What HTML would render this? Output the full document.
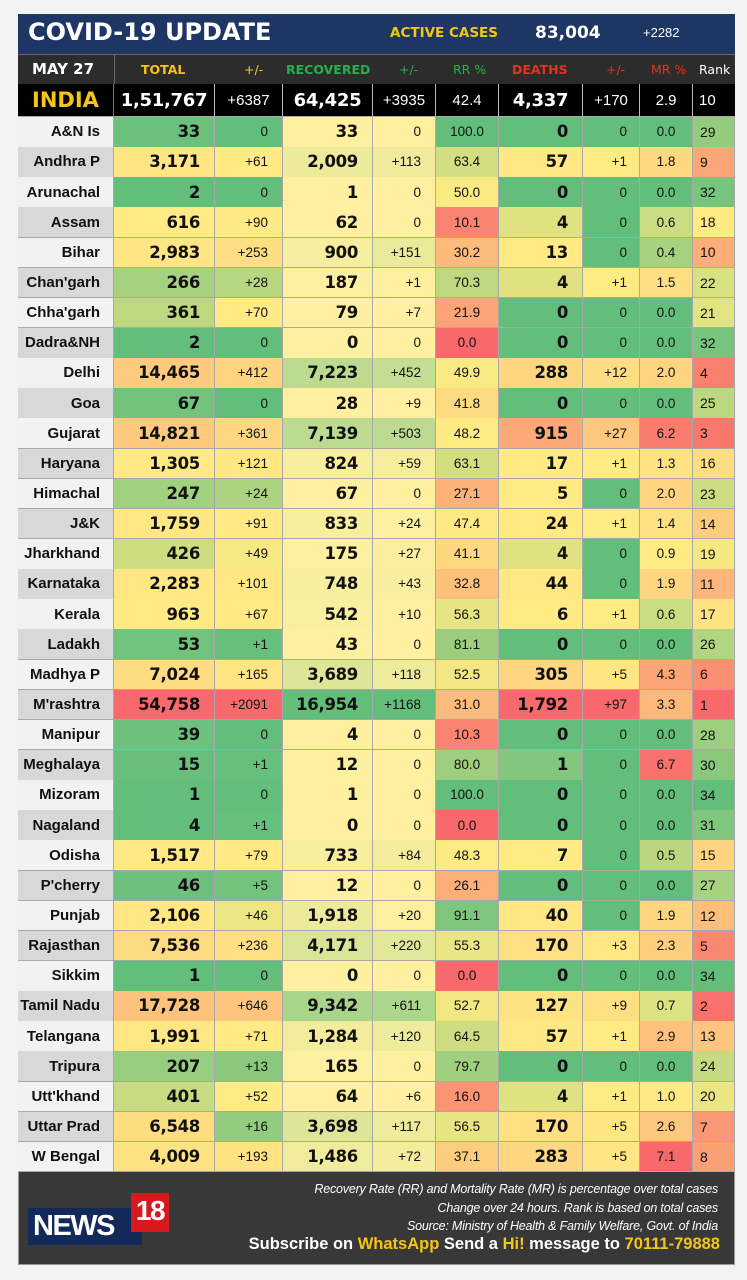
<!DOCTYPE html>
<html><head><meta charset="utf-8">
<style>
*{margin:0;padding:0;box-sizing:border-box}
body{width:747px;height:1280px;background:#f3f3f3;position:relative;overflow:hidden;font-family:"DejaVu Sans","Liberation Sans",sans-serif}
.a{position:absolute;white-space:nowrap}
.c{position:absolute;white-space:nowrap;border-right:1px solid #a9a9a9;border-bottom:1px solid #a9a9a9;display:flex;align-items:center;color:#111;font-size:13.5px;font-family:"Liberation Sans",sans-serif}
.b{font-family:"DejaVu Sans",sans-serif;font-weight:bold;font-size:16.5px;letter-spacing:-0.3px}
.n{font-family:"Liberation Sans",sans-serif;font-weight:bold;font-size:15px;justify-content:flex-end;padding-right:13px}
.r{justify-content:flex-end;padding-right:14px}
.m{justify-content:center}
.h{position:absolute;font-weight:bold;font-size:12.5px;top:62px}
</style></head><body>
<div class="a" style="left:18px;top:14px;width:717px;height:1251px;background:#383838;border:1px solid #999"></div>
<div class="a" style="left:18px;top:14px;width:717px;height:40px;background:#1e3664"></div>
<div class="a" style="left:28px;top:18px;color:#fff;font-weight:bold;font-size:24px">COVID-19 UPDATE</div>
<div class="a" style="left:390px;top:25px;color:#f5c518;font-weight:bold;font-size:13.5px">ACTIVE CASES</div>
<div class="a" style="left:535px;top:23px;color:#fff;font-weight:bold;font-size:17px">83,004</div>
<div class="a" style="left:643px;top:25px;color:#fff;font-size:13px;font-family:'Liberation Sans',sans-serif">+2282</div>
<div class="a" style="left:18px;top:54px;width:717px;height:30px;background:#2c2c2c;border-top:1px solid #666"></div>
<div class="a" style="left:114px;top:55px;width:1px;height:29px;background:#666"></div>
<div class="h" style="left:32px;top:60px;color:#fff;font-size:15px">MAY 27</div>
<div class="h" style="left:141px;color:#f5c518">TOTAL</div>
<div class="h" style="left:244px;color:#f5c518;font-weight:normal">+/-</div>
<div class="h" style="left:286px;color:#22b14c">RECOVERED</div>
<div class="h" style="left:399px;color:#22b14c;font-weight:normal">+/-</div>
<div class="h" style="left:453px;color:#22b14c;font-weight:normal">RR %</div>
<div class="h" style="left:512px;color:#e8321e">DEATHS</div>
<div class="h" style="left:606px;color:#e8321e;font-weight:normal">+/-</div>
<div class="h" style="left:651px;color:#e8321e;font-weight:normal">MR %</div>
<div class="h" style="left:699px;color:#fff;font-weight:normal">Rank</div>
<div id="t"></div>
<div class="a" style="left:28px;top:1208px;width:114px;height:37px;background:#13295a"></div>
<div class="a" style="left:33px;top:1210px;color:#fff;font-family:'Liberation Sans',sans-serif;font-weight:bold;font-size:29px;letter-spacing:-1.5px">NEWS</div>
<div class="a" style="left:131px;top:1193px;width:38px;height:39px;background:#d7191f;color:#fff;font-family:'Liberation Sans',sans-serif;font-weight:bold;font-size:28px;text-align:center;line-height:36px;letter-spacing:-1.5px">18</div>
<div class="a" style="right:29px;top:1180px;color:#fff;font-style:italic;font-size:12.5px;text-align:right;line-height:18.5px;font-family:'Liberation Sans',sans-serif;letter-spacing:-0.2px">Recovery Rate (RR) and Mortality Rate (MR) is percentage over total cases<br>Change over 24 hours. Rank is based on total cases<br>Source: Ministry of Health &amp; Family Welfare, Govt. of India</div>
<div class="a" style="right:27px;top:1235px;color:#fff;font-weight:bold;font-size:16.5px;font-family:'Liberation Sans',sans-serif">Subscribe on <span style="color:#f5c518">WhatsApp</span> Send a <span style="color:#f5c518">Hi!</span> message to <span style="color:#f5c518">70111-79888</span></div>
<script>
var D=[
["A&N Is",33,0,33,0,"100.0",0,0,"0.0",29],["Andhra P",3171,61,2009,113,"63.4",57,1,"1.8",9],["Arunachal",2,0,1,0,"50.0",0,0,"0.0",32],["Assam",616,90,62,0,"10.1",4,0,"0.6",18],["Bihar",2983,253,900,151,"30.2",13,0,"0.4",10],["Chan'garh",266,28,187,1,"70.3",4,1,"1.5",22],["Chha'garh",361,70,79,7,"21.9",0,0,"0.0",21],["Dadra&NH",2,0,0,0,"0.0",0,0,"0.0",32],["Delhi",14465,412,7223,452,"49.9",288,12,"2.0",4],["Goa",67,0,28,9,"41.8",0,0,"0.0",25],["Gujarat",14821,361,7139,503,"48.2",915,27,"6.2",3],["Haryana",1305,121,824,59,"63.1",17,1,"1.3",16],["Himachal",247,24,67,0,"27.1",5,0,"2.0",23],["J&K",1759,91,833,24,"47.4",24,1,"1.4",14],["Jharkhand",426,49,175,27,"41.1",4,0,"0.9",19],["Karnataka",2283,101,748,43,"32.8",44,0,"1.9",11],["Kerala",963,67,542,10,"56.3",6,1,"0.6",17],["Ladakh",53,1,43,0,"81.1",0,0,"0.0",26],["Madhya P",7024,165,3689,118,"52.5",305,5,"4.3",6],["M'rashtra",54758,2091,16954,1168,"31.0",1792,97,"3.3",1],["Manipur",39,0,4,0,"10.3",0,0,"0.0",28],["Meghalaya",15,1,12,0,"80.0",1,0,"6.7",30],["Mizoram",1,0,1,0,"100.0",0,0,"0.0",34],["Nagaland",4,1,0,0,"0.0",0,0,"0.0",31],["Odisha",1517,79,733,84,"48.3",7,0,"0.5",15],["P'cherry",46,5,12,0,"26.1",0,0,"0.0",27],["Punjab",2106,46,1918,20,"91.1",40,0,"1.9",12],["Rajasthan",7536,236,4171,220,"55.3",170,3,"2.3",5],["Sikkim",1,0,0,0,"0.0",0,0,"0.0",34],["Tamil Nadu",17728,646,9342,611,"52.7",127,9,"0.7",2],["Telangana",1991,71,1284,120,"64.5",57,1,"2.9",13],["Tripura",207,13,165,0,"79.7",0,0,"0.0",24],["Utt'khand",401,52,64,6,"16.0",4,1,"1.0",20],["Uttar Prad",6548,16,3698,117,"56.5",170,5,"2.6",7],["W Bengal",4009,193,1486,72,"37.1",283,5,"7.1",8]];
var X=[18,114,215,283,373,436,499,583,640,693,735];
var G=[99,190,123],Y=[255,235,132],R=[248,105,107],P=[255,240,160];
function mix(a,b,t){t=Math.max(0,Math.min(1,t));return"rgb("+a.map(function(v,i){return Math.round(v+(b[i]-v)*t)}).join(",")+")"}
function col(k){return D.map(function(r){return parseFloat(r[k])})}
function med(a){var s=a.slice().sort(function(x,y){return x-y});return s[Math.floor(s.length/2)]}
function sc3(k,rev){var a=col(k),mn=Math.min.apply(0,a),mx=Math.max.apply(0,a),md=med(a);if(md<=mn)md=mn+1;
 var lo=rev?R:G,hi=rev?G:R;return function(v){return v<=md?mix(lo,Y,(v-mn)/(md-mn)):mix(Y,hi,(v-md)/(mx-md))}}
function sc2(k){var a=col(k),mx=Math.max.apply(0,a);return function(v){return mix(P,G,v/mx)}}
var S={1:sc3(1),2:sc3(2),3:sc2(3),4:sc2(4),5:sc3(5,true),6:sc3(6),7:sc3(7),8:sc3(8),9:sc3(9,true)};
function fmt(n){var s=String(n);if(s.length<=3)return s;var l=s.slice(-3),r=s.slice(0,-3);return r.replace(/\B(?=(\d{2})+(?!\d))/g,",")+","+l}
var h="";
var I=["INDIA","1,51,767","+6387","64,425","+3935","42.4","4,337","+170","2.9","10"];
h+='<div class="a" style="left:18px;top:84px;width:717px;height:33px;background:#000"></div>';
for(var j=0;j<10;j++){var st="left:"+X[j]+"px;top:84px;width:"+(X[j+1]-X[j])+"px;height:33px;border-right:1px solid #bbb;color:#fff;";
 var cl="c ";if(j==0){cl+="m";st+="color:#f5c518;font-weight:bold;font-size:21px;font-family:'DejaVu Sans',sans-serif;border-right:1px solid #777"}
 else if(j==1||j==3||j==6){cl+="m b";st+="font-size:18px"}else if(j==9){st+="padding-left:6px;font-size:15px;border-right:none"}else{cl+="m";st+="font-size:15px"}
 h+='<div class="'+cl+'" style="'+st+'">'+I[j]+'</div>'}
var rh=1055/35;
D.forEach(function(r,i){var top=117+i*rh;
 for(var j=0;j<10;j++){var st="left:"+X[j]+"px;top:"+top.toFixed(2)+"px;width:"+(X[j+1]-X[j])+"px;height:"+(rh+0.5).toFixed(2)+"px;";
  var cl="c ",txt;
  if(j==0){cl+="n";st+="background:"+(i%2?"#d8d8d8":"#f2f2f2");txt=r[0].replace("&","&amp;")}
  else{st+="background:"+S[j](parseFloat(r[j]))+";";
   if(j==1||j==3||j==6){cl+="b r";txt=fmt(r[j])}
   else if(j==2||j==4||j==7){cl+="r";txt=r[j]>0?"+"+r[j]:"0";if(j==7)st+="padding-right:12px;"}
   else if(j==9){st+="padding-left:7px;font-size:14px";txt=r[j]}
   else{cl+="m";txt=r[j]}}
  h+='<div class="'+cl+'" style="'+st+'">'+txt+'</div>'}});
document.getElementById("t").innerHTML=h;
</script>
</body></html>
